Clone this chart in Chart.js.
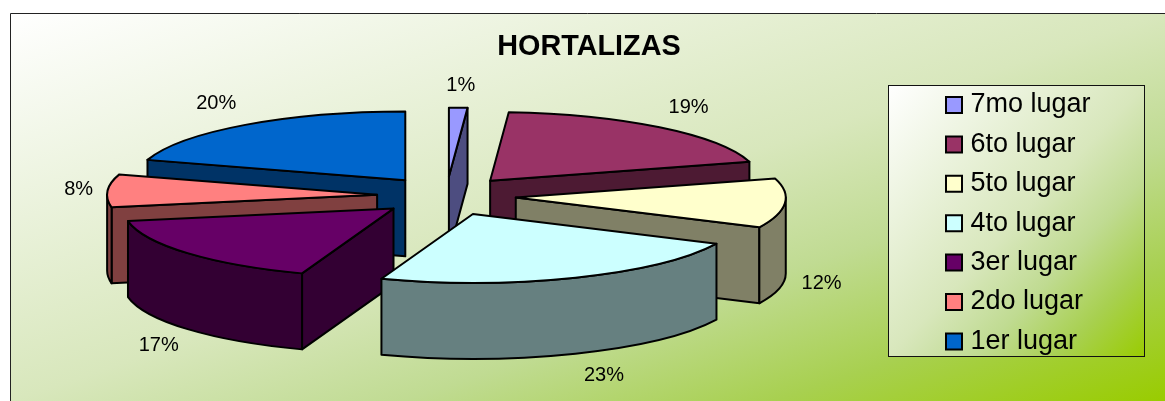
<!DOCTYPE html>
<html><head><meta charset="utf-8">
<style>html,body{margin:0;padding:0;background:#fff}canvas{display:block}#w{width:1165px;height:401px}</style>
<script src="https://cdn.jsdelivr.net/npm/chart.js@4/dist/chart.umd.js"></script>
</head><body><div id="w"><canvas id="c" width="1165" height="401"></canvas></div>
<script>
const title = 'HORTALIZAS';
const categories = ['7mo lugar','6to lugar','5to lugar','4to lugar','3er lugar','2do lugar','1er lugar'];
const values = [1.1,19.4,11.6,23.4,16.6,7.7,20.2];
const topColors = ['#9999FF','#993366','#FFFFCC','#CCFFFF','#660066','#FF8080','#0066CC'];
const sideColors = ['#4D4D80','#4D1A33','#808066','#668080','#330033','#804040','#003366'];
const explode = 69.5, squash = 0.255, explodeSquash = 0.28, depth = 76, pieRadius = 270;

function diag(ctx,x,y,w,h){
  ctx.save();ctx.beginPath();ctx.rect(x,y,w,h);ctx.clip();
  ctx.translate(x,y);ctx.scale(w,h);
  const g=ctx.createLinearGradient(0,0,1,1);
  g.addColorStop(0,'#FFFFFF');g.addColorStop(.5,'#D8E7BC');g.addColorStop(.67,'#C0DB92');g.addColorStop(.83,'#A8D050');g.addColorStop(1,'#99CC00');
  ctx.fillStyle=g;ctx.fillRect(0,0,1,1);ctx.restore();
}
const decor={id:'decor',
  afterLayout(chart){
    const l=chart.legend,t=chart.titleBlock;
    const dx=938.6-l.left,dy=79.1-l.top;
    l.left+=dx;l.right+=dx;l.top+=dy;l.bottom+=dy;
    t.left+=142.5;t.right+=142.5;t.top+=22;t.bottom+=22;
  },
  beforeDraw(chart){
    const ctx=chart.ctx;
    ctx.save();
    ctx.fillStyle='#fff';ctx.fillRect(0,0,1165,401);
    diag(ctx,10,13,1155,388);
    ctx.strokeStyle='#222';ctx.lineWidth=1;
    ctx.beginPath();ctx.moveTo(10.5,401);ctx.lineTo(10.5,13.5);ctx.lineTo(1165,13.5);ctx.stroke();
    diag(ctx,888,85,257,272);
    ctx.strokeStyle='#111';ctx.strokeRect(888.5,85.5,256,271);
    ctx.restore();
  },
  beforeDatasetsDraw(chart){
    const ctx=chart.ctx,meta=chart.getDatasetMeta(0),s=squash,d=depth;
    const slices=meta.data.map((el,i)=>{
      const p=el.getProps(['x','y','startAngle','endAngle','outerRadius'],true);
      const mid=(p.startAngle+p.endAngle)/2,off=el.options.offset;
      return {i,a0:p.startAngle,a1:p.endAngle,r:p.outerRadius,mid,
        cx:p.x+Math.cos(mid)*off,cy:p.y+Math.sin(mid)*off*explodeSquash};
    });
    ctx.save();
    ctx.lineWidth=2;ctx.lineJoin='round';ctx.strokeStyle='#000';
    slices.slice().sort((a,b)=>a.cy-b.cy).forEach(o=>{
      const {cx,cy,r,a0,a1,i}=o,ry=r*s;
      const paint=c=>{ctx.fillStyle=c;ctx.fill();ctx.stroke();};
      const radial=a=>{
        const x=cx+r*Math.cos(a),y=cy+ry*Math.sin(a);
        ctx.beginPath();ctx.moveTo(cx,cy);ctx.lineTo(x,y);ctx.lineTo(x,y+d);ctx.lineTo(cx,cy+d);ctx.closePath();
        paint(sideColors[i]);
      };
      if(Math.cos(a0)<0)radial(a0);
      if(Math.cos(a1)>0)radial(a1);
      const u=Math.max(a0,0),v=Math.min(a1,Math.PI);
      if(v>u){
        ctx.beginPath();ctx.ellipse(cx,cy,r,ry,0,u,v);
        ctx.ellipse(cx,cy+d,r,ry,0,v,u,true);ctx.closePath();
        paint(sideColors[i]);
      }
      ctx.beginPath();ctx.moveTo(cx,cy);ctx.ellipse(cx,cy,r,ry,0,a0,a1);ctx.closePath();
      paint(topColors[i]);
    });
    const tot=values.reduce((a,b)=>a+b,0);
    ctx.fillStyle='#000';ctx.font='20px "Liberation Sans"';ctx.textAlign='center';ctx.textBaseline='middle';
    slices.forEach(o=>{
      const c=Math.cos(o.mid),n=Math.sin(o.mid);
      const gx=Math.sign(c)*Math.min(Math.abs(c)*75,29)+Math.max(0,c-.9)*80;
      const x=o.cx+c*o.r+gx;
      const y=o.cy+n*(o.r*s+(n>0?20:(n<-.9?22:26)))+(n>0?d+3:0);
      ctx.fillText(Math.round(values[o.i]/tot*100)+'%',x,y);
    });
    ctx.restore();
    return false;
  }
};
new Chart(document.getElementById('c'),{
  type:'pie',
  data:{labels:categories,datasets:[{data:values,backgroundColor:topColors,borderColor:'#000',borderWidth:2,offset:explode}]},
  options:{
    responsive:false,animation:false,radius:pieRadius,
    layout:{padding:{left:0,top:0,right:272,bottom:59.56}},
    plugins:{
      tooltip:{enabled:false},
      title:{display:true,text:title,color:'#000',padding:8,font:{family:'"Liberation Sans"',size:28.8,weight:'bold'}},
      legend:{position:'chartArea',align:'start',
        labels:{color:'#000',usePointStyle:true,pointStyle:'rect',boxWidth:6,boxHeight:16,padding:12.4,font:{family:'"Liberation Sans"',size:27}}}
    }
  },
  plugins:[decor]
});
</script></body></html>
